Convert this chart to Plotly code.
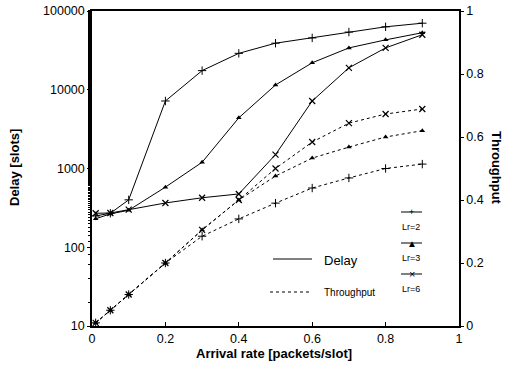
import plotly.graph_objects as go

# ---- data ----
arrival = [0.01, 0.05, 0.1, 0.2, 0.3, 0.4, 0.5, 0.6, 0.7, 0.8, 0.9]

delay_lr2 = [250, 270, 400, 7200, 17500, 29000, 39000, 45500, 54000, 63000, 70000]
delay_lr3 = [230, 265, 295, 580, 1200, 4400, 11500, 22000, 34000, 43000, 53000]
delay_lr6 = [270, 272, 300, 365, 425, 475, 1500, 7200, 19000, 34000, 50000]

thr_lr2 = [0.01, 0.05, 0.10, 0.20, 0.285, 0.34, 0.39, 0.438, 0.47, 0.50, 0.514]
thr_lr3 = [0.01, 0.05, 0.10, 0.20, 0.305, 0.40, 0.476, 0.533, 0.568, 0.60, 0.62]
thr_lr6 = [0.01, 0.05, 0.10, 0.20, 0.305, 0.40, 0.50, 0.584, 0.644, 0.673, 0.689]

delay_ticks = [10, 100, 1000, 10000, 100000]
delay_tick_labels = ["10", "100", "1000", "10000", "100000"]
x_ticks = [0, 0.2, 0.4, 0.6, 0.8, 1]
x_tick_labels = ["0", "0.2", "0.4", "0.6", "0.8", "1"]
thr_ticks = [0, 0.2, 0.4, 0.6, 0.8, 1]
thr_tick_labels = ["0", "0.2", "0.4", "0.6", "0.8", "1"]

series = [
    ("Lr=2", delay_lr2, thr_lr2, dict(symbol="cross-thin", size=6, line=dict(width=1, color="black"))),
    ("Lr=3", delay_lr3, thr_lr3, dict(symbol="triangle-up", size=5, line=dict(width=0))),
    ("Lr=6", delay_lr6, thr_lr6, dict(symbol="x-thin", size=6, line=dict(width=1.2, color="black"))),
]

FONT = "Liberation Sans, Arial, sans-serif"
fig = go.Figure()

for name, d, t, mk in series:
    fig.add_trace(go.Scatter(x=arrival, y=d, mode="lines+markers", name=name,
                             line=dict(color="black", width=1), marker=dict(color="black", **mk),
                             showlegend=False, yaxis="y"))
    fig.add_trace(go.Scatter(x=arrival, y=t, mode="lines+markers", name=name,
                             line=dict(color="black", width=1, dash="dot"), marker=dict(color="black", **mk),
                             showlegend=False, yaxis="y2"))

fig.update_layout(
    width=517, height=366,
    margin=dict(l=92, r=58, t=11, b=40, autoexpand=False),
    paper_bgcolor="white", plot_bgcolor="white",
    font=dict(family=FONT, size=12.5, color="black"),
    xaxis=dict(range=[0, 1], tickvals=x_ticks, ticktext=x_tick_labels,
               ticks="inside", ticklen=4, tickcolor="black", automargin=False,
               showline=True, linecolor="black", linewidth=1.5, mirror=True,
               showgrid=False, zeroline=False),
    yaxis=dict(type="log", range=[1, 5], tickvals=delay_ticks, ticktext=delay_tick_labels,
               ticks="outside", ticklen=3, tickcolor="black", automargin=False,
               minor=dict(ticks="outside", ticklen=2, tickcolor="black"),
               showline=True, linecolor="black", linewidth=1.5,
               showgrid=False, zeroline=False),
    yaxis2=dict(range=[0, 1], tickvals=thr_ticks, ticktext=thr_tick_labels,
                overlaying="y", side="right", automargin=False,
                ticks="outside", ticklen=3, tickcolor="black",
                showline=True, linecolor="black", linewidth=1.5,
                showgrid=False, zeroline=False),
)

def px(xp):
    return (xp - 92) / 367

def py(yp):
    return (326 - yp) / 315

# axis titles
fig.add_annotation(xref="paper", yref="paper", x=px(274), y=py(354),
                   text="<b>Arrival rate [packets/slot]</b>", showarrow=False,
                   xanchor="center", yanchor="middle", font=dict(size=13))
fig.add_annotation(xref="paper", yref="paper", x=px(14), y=py(168),
                   text="<b>Delay [slots]</b>", textangle=-90, showarrow=False,
                   xanchor="center", yanchor="middle", font=dict(size=13))
fig.add_annotation(xref="paper", yref="paper", x=px(497), y=py(168),
                   text="<b>Throughput</b>", textangle=90, showarrow=False,
                   xanchor="center", yanchor="middle", font=dict(size=13))

# ---- legend drawn inside the plot ----
fig.add_shape(type="line", xref="paper", yref="paper", x0=px(273), x1=px(312), y0=py(259), y1=py(259),
              line=dict(color="black", width=1))
fig.add_annotation(xref="paper", yref="paper", x=px(322), y=py(260), xanchor="left", yanchor="middle",
                   text="Delay", showarrow=False, font=dict(size=13))
fig.add_shape(type="line", xref="paper", yref="paper", x0=px(270), x1=px(310), y0=py(292), y1=py(292),
              line=dict(color="black", width=1, dash="dot"))
fig.add_annotation(xref="paper", yref="paper", x=px(322), y=py(292), xanchor="left", yanchor="middle",
                   text="Throughput", showarrow=False, font=dict(size=10))

for i, (name, glyph, gsize) in enumerate([("Lr=2", "+", 9), ("Lr=3", "▲", 10), ("Lr=6", "×", 11)]):
    ly = 212 + i * 31
    fig.add_shape(type="line", xref="paper", yref="paper", x0=px(401), x1=px(422), y0=py(ly), y1=py(ly),
                  line=dict(color="black", width=1))
    fig.add_annotation(xref="paper", yref="paper", x=px(411.5), y=py(ly), xanchor="center", yanchor="middle",
                       text=glyph, showarrow=False, font=dict(size=gsize))
    fig.add_annotation(xref="paper", yref="paper", x=px(411), y=py(ly + 15), xanchor="center", yanchor="middle",
                       text=name, showarrow=False, font=dict(size=9))

fig.write_html("out.html", config={"displayModeBar": False},
               post_script="document.body.style.margin='0';document.body.style.overflow='hidden';")
